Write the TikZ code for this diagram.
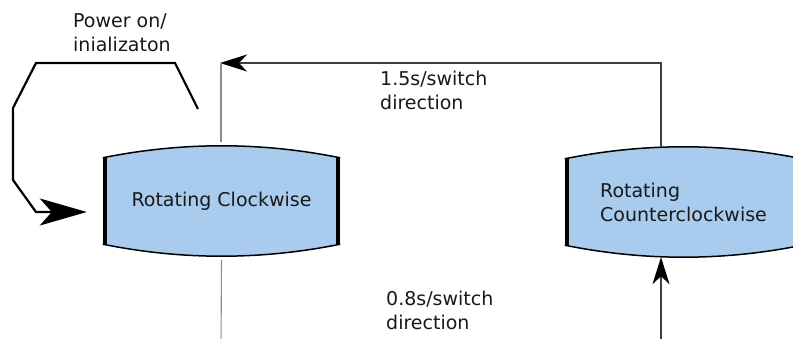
\documentclass[tikz,border=0pt]{standalone}
\usepackage{fontspec}
\setmainfont{DejaVu Sans}
\usetikzlibrary{arrows.meta,calc,backgrounds}
\definecolor{stateblue}{RGB}{169,203,238}

% Outline of a state: bulging top and bottom, heavy vertical sides
\newcommand\drawstate[1]{%
  \fill[stateblue]
    ($(#1.north west)+(0,12)$) .. controls ($(#1.north west)+(79,-4)$) and ($(#1.north east)+(-79,-4)$) .. ($(#1.north east)+(0,12)$)
    -- ($(#1.south east)+(0,-12)$) .. controls ($(#1.south east)+(-79,4)$) and ($(#1.south west)+(79,4)$) .. ($(#1.south west)+(0,-12)$)
    -- cycle;
  \draw[stateedge]
    ($(#1.north west)+(0,12)$) .. controls ($(#1.north west)+(79,-4)$) and ($(#1.north east)+(-79,-4)$) .. ($(#1.north east)+(0,12)$);
  \draw[stateedge]
    ($(#1.south east)+(0,-12)$) .. controls ($(#1.south east)+(-79,4)$) and ($(#1.south west)+(79,4)$) .. ($(#1.south west)+(0,-12)$);
  \draw[stateside] ($(#1.north west)+(2,12)$) -- ($(#1.south west)+(2,-12)$);
  \draw[stateside] ($(#1.north east)+(-2,12)$) -- ($(#1.south east)+(-2,-12)$);
}

\begin{document}
\begin{tikzpicture}[x=1pt,y=-1pt,
  every node/.style={font=\fontsize{19}{24}\selectfont, text=black!90, inner sep=0pt},
  state/.style={minimum width=237pt, minimum height=110pt, align=left},
  note/.style={align=left, anchor=base west},
  stateedge/.style={draw=black, line width=1.5pt},
  stateside/.style={draw=black, line width=4pt},
  link/.style={draw=black!75, line width=1.1pt},
  linklight/.style={draw=black!45, line width=1.1pt},
  tipsmall/.style={-{Stealth[length=27pt,width=17pt,inset=8pt,color=black]}},
  tipbig/.style={-{Stealth[length=47pt,width=27pt,inset=12pt]}},
  initline/.style={draw=black, line width=2.2pt, miter limit=10},
]
\useasboundingbox (0,0) rectangle (793,339);

% states
\node[state] (cw)  at (221.5,201) {Rotating Clockwise};
\node[state] (ccw) at (683.5,202) {Rotating\\Counterclockwise};

\begin{pgfonlayer}{background}
  \fill[white] (0,0) rectangle (793,339);
  \drawstate{cw}
  \drawstate{ccw}
\end{pgfonlayer}

% transition labels (anchored on the baseline of their last line)
\node[note] (pwr) at (73,52)  {Power on/\\inializaton};
\node[note] (t15) at (380,110) {1.5s/switch\\direction};
\node[note] (t08) at (386,329) {0.8s/switch\\direction};

% initial transition
\coordinate (init) at (198,109);
\draw[initline, tipbig] (init) -- (175,63) -- (36,63) -- (13,108) -- (13,180) -- (36,212)
  -- ($(cw.west)+(-16,11)$);

% counterclockwise -> clockwise
\coordinate (turn) at (220,63);
\draw[link, tipsmall] ([xshift=-22.5pt]ccw.north) |- (turn);
\draw[linklight] ([xshift=1pt]turn) -- ([xshift=-0.5pt,yshift=4pt]cw.north);

% clockwise -> counterclockwise, running below the frame
\coordinate (offl) at (221,350);
\coordinate (offr) at (661,350);
\draw[linklight] ([yshift=-4pt]cw.south) -- (offl);
\draw[link, tipsmall] (offr) -- ([xshift=-22.5pt]ccw.south);
\end{tikzpicture}
\end{document}
